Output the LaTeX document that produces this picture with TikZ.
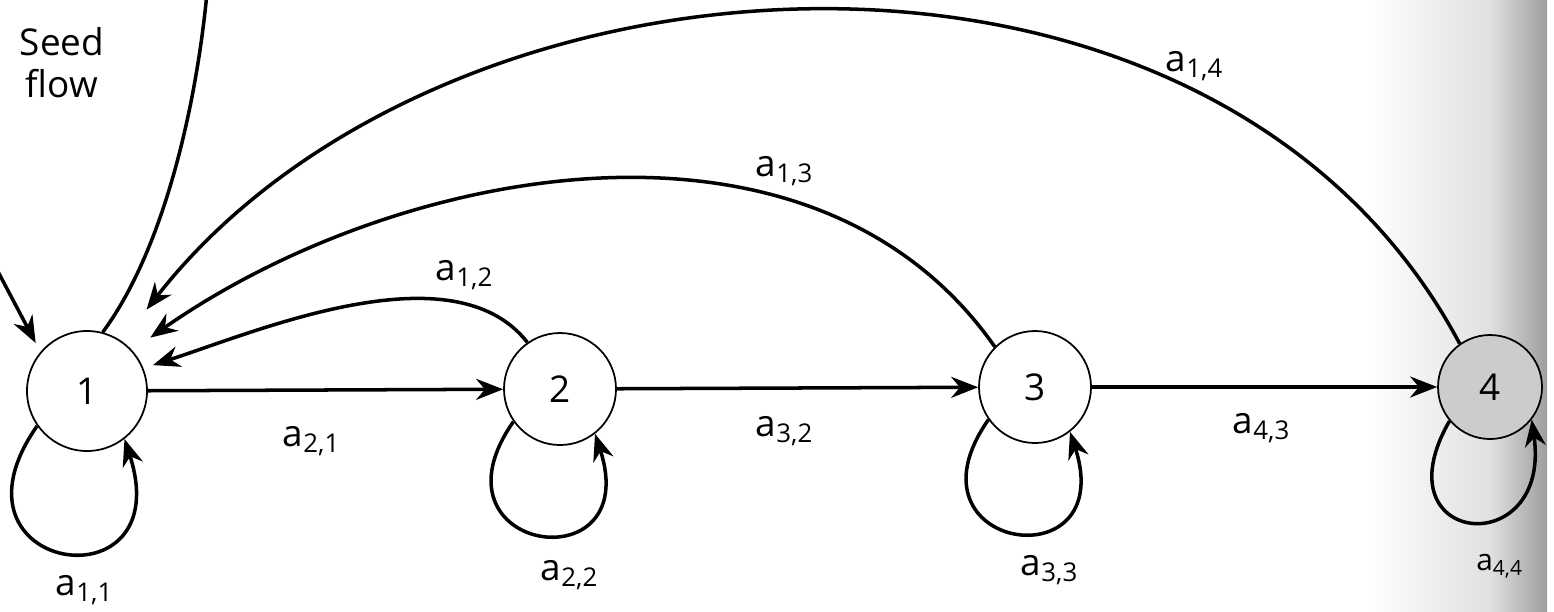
\documentclass[tikz,border=0pt]{standalone}
\usepackage{fontspec}
\setmainfont{Open Sans}
\usepackage{tikz}
\usetikzlibrary{arrows.meta}
\newcommand{\coef}[1]{a\textsubscript{#1}}

\begin{document}
\begin{tikzpicture}[
    circ/.style={circle, draw, line width=0.5pt, inner sep=0pt, minimum size=11.2mm, font=\fontsize{10.5}{12}\selectfont},
    lab/.style={font=\fontsize{10.5}{12}\selectfont},
    arrow/.style={-{Stealth[length=2.7mm,width=2.1mm]}, line width=1pt},
    line/.style={line width=1pt},
]
\useasboundingbox (0,0) rectangle (15.54,6.11);
% scan shading at the gutter
\shade[left color=white, right color=black!12] (13.7,0) rectangle (14.9,6.11);
\shade[left color=black!12, right color=black!38] (14.9,0) rectangle (15.47,6.11);

% stages
\node[circ, minimum size=12mm] (n1) at (0.87, 2.2)  {1};
\node[circ] (n2) at (5.60, 2.22) {2};
\node[circ] (n3) at (10.35, 2.24) {3};
\node[circ, minimum size=10.4mm, fill=black!20] (n4) at (14.90, 2.24) {4};

\coordinate (seedtop) at (2.08, 6.3);
\coordinate (fromleft) at (-0.05, 3.45);

% growth
\draw[arrow] (n1) -- (n2);
\draw[arrow] (n2) -- (n3);
\draw[arrow] (n3) -- (n4);

% fecundity
\draw[arrow, shorten >=1mm] (n2.125) to[out=128, in=18, looseness=0.8] (n1.22);
\draw[arrow, shorten >=2.2mm] (n3.135) to[out=125, in=35, looseness=0.95] (n1.42);
\draw[arrow, shorten >=4mm] (n4.125) to[out=118, in=52, looseness=1.0] (n1.55);

% seed flow
\draw[line] (n1.75) .. controls (1.7, 3.7) and (2.0, 5.3) .. (seedtop);
\draw[arrow, shorten >=1mm] (fromleft) -- (n1.140);

% stasis
\draw[arrow] (n1.215) .. controls +(235:1.8) and +(-72:1.8) .. (n1.-52);
\draw[arrow] (n2.215) .. controls +(235:1.6) and +(-72:1.6) .. (n2.-52);
\draw[arrow] (n3.215) .. controls +(235:1.6) and +(-72:1.6) .. (n3.-52);
\draw[arrow] (n4.220) .. controls +(240:1.45) and +(-82:1.45) .. (n4.-38);

% labels
\node[lab, align=center] (seed) at (0.62, 5.48) {Seed\\flow};
\node[lab] (l11) at (0.85, 0.21)  {\coef{1,1}};
\node[lab] (l22) at (5.70, 0.36)  {\coef{2,2}};
\node[lab] (l33) at (10.50, 0.41) {\coef{3,3}};
\node[lab, font=\fontsize{8.5}{10}\selectfont] (l44) at (15.0, 0.45) {\coef{4,4}};
\node[lab] (l21) at (3.12, 1.70)  {\coef{2,1}};
\node[lab] (l32) at (7.85, 1.80)  {\coef{3,2}};
\node[lab] (l43) at (12.62, 1.83) {\coef{4,3}};
\node[lab] (l12) at (4.65, 3.36)  {\coef{1,2}};
\node[lab] (l13) at (7.85, 4.40)  {\coef{1,3}};
\node[lab] (l14) at (11.95, 5.45) {\coef{1,4}};

\end{tikzpicture}
\end{document}
